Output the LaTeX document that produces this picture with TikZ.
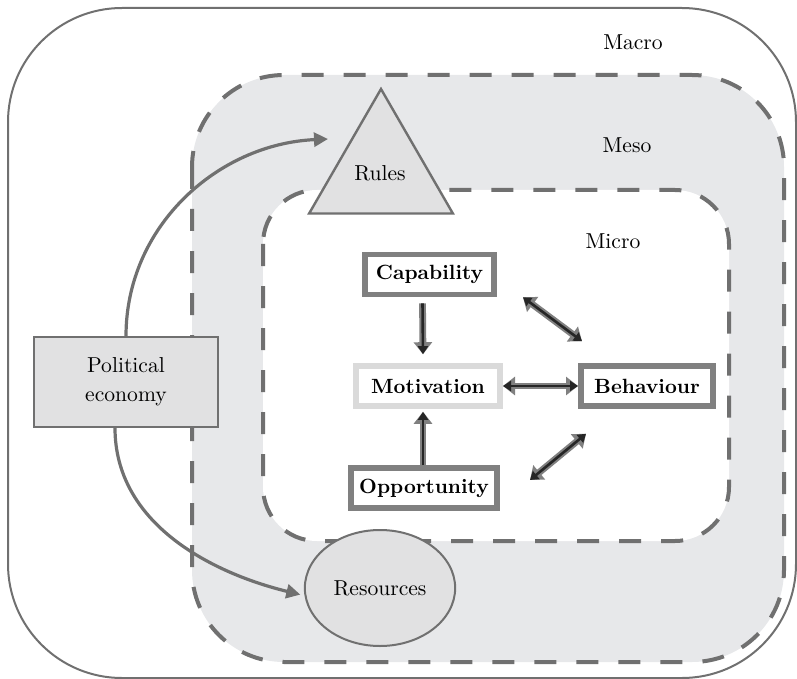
\documentclass[tikz,border=0pt]{standalone}
\usepackage{tikz}
\usetikzlibrary{positioning,arrows.meta,shapes.geometric}
\definecolor{linegray}{RGB}{112,112,112}
\definecolor{mesofill}{RGB}{231,232,234}
\definecolor{shapefill}{RGB}{225,225,226}
\definecolor{boxgray}{RGB}{128,128,128}
\definecolor{palegray}{RGB}{218,218,218}
\tikzset{every picture/.style={line width=0.75pt}}
\tikzset{
  level/.style={draw=linegray, line width=2pt, dash pattern=on 11pt off 10pt},
  tag/.style={font=\fontsize{10.8}{14.5}\selectfont},
  factor/.style={draw=boxgray, fill=white, line width=2.8pt, minimum height=20pt,
    inner sep=0pt, font=\fontsize{10.3}{12}\selectfont\bfseries},
  link/.style={draw=boxgray, line width=3.4pt, -{Triangle[length=6pt,width=9pt]},
    postaction={draw=black!85, line width=1.3pt, -{Triangle[length=4pt,width=5pt]}}},
  links/.style={draw=boxgray, line width=3.4pt,
    {Triangle[length=6pt,width=9pt]}-{Triangle[length=6pt,width=9pt]},
    postaction={draw=black!85, line width=1.3pt,
      {Triangle[length=4pt,width=5pt]}-{Triangle[length=4pt,width=5pt]}}},
  flow/.style={draw=linegray, line width=1.6pt, -{Triangle[length=7pt,width=7pt]}}
}

\begin{document}
\begin{tikzpicture}[x=0.5pt, y=-0.5pt]
\useasboundingbox (0,0) rectangle (797,679);

% levels
\draw[linegray, line width=1pt, rounded corners=57pt] (8,8) rectangle (796,678);
\draw[level, fill=mesofill, rounded corners=46pt] (192,75) rectangle (784,662);
\draw[level, fill=white, rounded corners=27pt] (263,190) rectangle (729,541);
\node[tag] (macro) at (633,42) {Macro};
\node[tag] (meso) at (627,145) {Meso};
\node[tag] (micro) at (613,241) {Micro};

% meso and macro factors
\node[tag, regular polygon, regular polygon sides=3, minimum size=83pt, inner sep=0pt,
  draw=linegray, fill=shapefill, line width=1.2pt] (rules) at (381,172) {};
\node[tag] at (380,173) {Rules};
\node[tag, ellipse, draw=linegray, fill=shapefill, line width=1pt,
  minimum width=69pt, minimum height=58pt] (res) at (380,588) {Resources};
\node[tag, draw=linegray, fill=shapefill, line width=1pt, align=center,
  minimum width=92pt, minimum height=45pt] (pe) at (126,382) {Political\\economy};

\draw[flow] (pe.north) .. controls +(0,-110) and +(-110,5) .. ([shift={(-53,-33)}]rules.center);
\draw[flow] ([shift={(-11,0)}]pe.south) .. controls +(0,95) and +(-90,-22) .. ([shift={(-4,0)}]res.185);

% COM-B
\node[factor, minimum width=64.7pt] (cap) at (429.5,274.5) {Capability};
\node[factor, draw=palegray, minimum width=72.2pt] (mot) at (428,386) {Motivation};
\node[factor, minimum width=66.2pt] (beh) at (647,386) {Behaviour};
\node[factor, minimum width=73.2pt] (opp) at (424,488) {Opportunity};

\draw[link] ([shift={(-7,6)}]cap.south) -- ([shift={(-5,-9)}]mot.north);
\draw[link] ([shift={(-1,0)}]opp.north) -- ([shift={(-5,3)}]mot.south);
\draw[links] (mot.east) -- (beh.west);
\draw[links] ([shift={(26,0)}]cap.south east) -- ([shift={(4,-22)}]beh.north west);
\draw[links] ([shift={(30,-8)}]opp.east) -- ([shift={(8,25)}]beh.south west);
\end{tikzpicture}
\end{document}
